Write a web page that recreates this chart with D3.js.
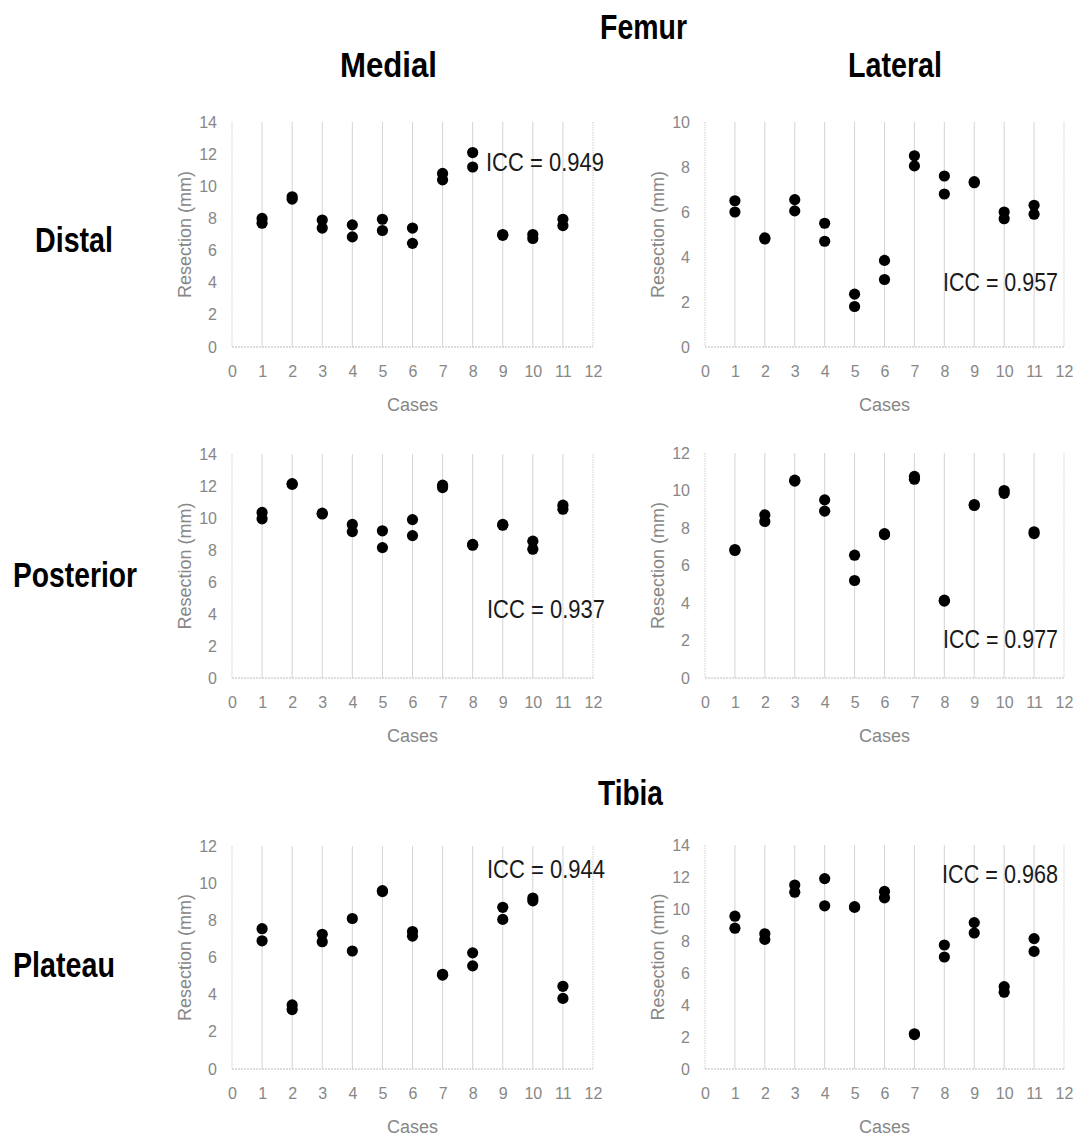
<!DOCTYPE html>
<html><head><meta charset="utf-8">
<script src="https://cdn.jsdelivr.net/npm/d3@7"></script>
<style>body{margin:0;background:#fff}</style>
</head><body><svg id="chart" width="1080" height="1142"></svg>
<script>
// ---------- data ----------
const cases = [1,2,3,4,5,6,7,8,9,10,11];
const xTickValues = [0,1,2,3,4,5,6,7,8,9,10,11,12];

const distalMedialA = [8.0, 9.35, 7.9, 7.6, 7.95, 7.4, 10.8, 12.1, 7.0, 7.0, 7.95];
const distalMedialB = [7.7, 9.2, 7.4, 6.85, 7.25, 6.45, 10.4, 11.2, 6.95, 6.75, 7.55];

const distalLateralA = [6.5, 4.85, 6.55, 5.5, 2.35, 3.85, 8.5, 7.6, 7.35, 6.0, 6.3];
const distalLateralB = [6.0, 4.8, 6.05, 4.7, 1.8, 3.0, 8.05, 6.8, 7.3, 5.7, 5.9];

const posteriorMedialA = [10.35, 12.15, 10.3, 9.6, 9.2, 9.9, 12.05, 8.35, 9.6, 8.55, 10.8];
const posteriorMedialB = [9.95, 12.1, 10.25, 9.15, 8.15, 8.9, 11.9, 8.3, 9.55, 8.05, 10.55];

const posteriorLateralA = [6.85, 8.7, 10.55, 9.5, 6.55, 7.7, 10.75, 4.15, 9.25, 10.0, 7.8];
const posteriorLateralB = [6.8, 8.35, 10.5, 8.9, 5.2, 7.65, 10.6, 4.1, 9.2, 9.85, 7.7];

const plateauMedialA = [7.55, 3.45, 7.25, 8.1, 9.6, 7.4, 5.1, 6.25, 8.7, 9.2, 4.45];
const plateauMedialB = [6.9, 3.2, 6.85, 6.35, 9.55, 7.15, 5.05, 5.55, 8.05, 9.05, 3.8];

const plateauLateralA = [9.55, 8.45, 11.5, 11.9, 10.15, 11.1, 2.2, 7.75, 9.15, 5.15, 8.15];
const plateauLateralB = [8.8, 8.1, 11.05, 10.2, 10.1, 10.7, 2.15, 7.0, 8.5, 4.8, 7.35];

const yMaxes = [14, 10, 14, 12, 12, 14];
const iccLabels = ["ICC = 0.949", "ICC = 0.957", "ICC = 0.937", "ICC = 0.977", "ICC = 0.944", "ICC = 0.968"];
const xAxisTitle = "Cases";
const yAxisTitle = "Resection (mm)";

// ---------- layout ----------
const panels = [
  {x0:232, x1:593, top:122, bottom:347, a:distalMedialA, b:distalMedialB, icc:{x:486, y:171, anchor:"start", w:118}},
  {x0:705, x1:1064, top:122, bottom:347, a:distalLateralA, b:distalLateralB, icc:{x:1058, y:291, anchor:"end", w:115}},
  {x0:232, x1:593, top:454, bottom:678, a:posteriorMedialA, b:posteriorMedialB, icc:{x:487, y:618, anchor:"start", w:118}},
  {x0:705, x1:1064, top:453, bottom:678, a:posteriorLateralA, b:posteriorLateralB, icc:{x:1058, y:648, anchor:"end", w:115}},
  {x0:232, x1:593, top:846, bottom:1069, a:plateauMedialA, b:plateauMedialB, icc:{x:487, y:878, anchor:"start", w:118}},
  {x0:705, x1:1064, top:845, bottom:1069, a:plateauLateralA, b:plateauLateralB, icc:{x:1058, y:883, anchor:"end", w:116}}
];

const titles = [
  {t:"Femur", x:600, y:39, size:36, w:87},
  {t:"Medial", x:340, y:77, size:35, w:97},
  {t:"Lateral", x:848, y:77, size:35, w:94},
  {t:"Distal", x:35, y:252, size:35, w:78},
  {t:"Posterior", x:13, y:587, size:35, w:124},
  {t:"Tibia", x:598, y:805, size:36, w:65},
  {t:"Plateau", x:13, y:977, size:35, w:102}
];

const FONT = "'Liberation Sans Narrow', 'Liberation Sans', Arial, sans-serif";
const svg = d3.select("#chart");
svg.append("rect").attr("width",1080).attr("height",1142).attr("fill","#fff");

// text squeezed horizontally to a target width via a scale transform
function fitText(parent, str, x, y, w, anchor, attrs) {
  const t = parent.append("text").attr("x", 0).attr("y", 0).attr("text-anchor", anchor).text(str);
  Object.entries(attrs).forEach(([k, v]) => t.attr(k, v));
  const len = t.node().getComputedTextLength();
  const s = Math.min(1, w / len);
  t.attr("transform", `translate(${x},${y}) scale(${s},1)`);
  return t;
}

panels.forEach((p, i) => {
  const x = d3.scaleLinear().domain([0, 12]).range([p.x0, p.x1]);
  const y = d3.scaleLinear().domain([0, yMaxes[i]]).range([p.bottom, p.top]);
  const g = svg.append("g");

  // vertical gridlines
  g.selectAll("line.grid").data(cases).enter().append("line")
    .attr("x1", d => x(d)).attr("x2", d => x(d))
    .attr("y1", p.top).attr("y2", p.bottom)
    .attr("stroke", "#d4d4d4").attr("stroke-width", 1);
  // border left/right (dotted)
  [0, 12].forEach(v => {
    g.append("line").attr("x1", x(v)).attr("x2", x(v)).attr("y1", p.top).attr("y2", p.bottom)
      .attr("stroke", "#cfcfcf").attr("stroke-width", 1).attr("stroke-dasharray", "1.5,1");
  });
  // bottom axis
  g.append("line").attr("x1", x(0)).attr("x2", x(12)).attr("y1", p.bottom).attr("y2", p.bottom)
    .attr("stroke", "#bdbdbd").attr("stroke-width", 1.2).attr("stroke-dasharray", "2,1");

  // x tick labels
  const xAxis = d3.axisBottom(x).tickValues(xTickValues).tickSize(0).tickPadding(19);
  const xa = g.append("g").attr("transform", `translate(0,${p.bottom})`).call(xAxis);
  xa.select(".domain").remove();
  xa.selectAll("text").attr("font-family", FONT).attr("font-size", 16).attr("fill", "#878787");

  // y tick labels
  const yAxis = d3.axisLeft(y).ticks(yMaxes[i] / 2).tickSize(0).tickPadding(15);
  const ya = g.append("g").attr("transform", `translate(${p.x0},0)`).call(yAxis);
  ya.select(".domain").remove();
  ya.selectAll("text").attr("font-family", FONT).attr("font-size", 16).attr("fill", "#878787");

  // axis titles
  g.append("text").attr("x", (p.x0 + p.x1) / 2).attr("y", p.bottom + 64)
    .attr("text-anchor", "middle").attr("font-family", FONT).attr("font-size", 18)
    .attr("fill", "#878787").text(xAxisTitle);
  g.append("text").attr("transform", `translate(${p.x0 - 41},${(p.top + p.bottom) / 2}) rotate(-90)`)
    .attr("text-anchor", "middle").attr("font-family", FONT).attr("font-size", 18)
    .attr("fill", "#878787").text(yAxisTitle);

  // points
  const pts = [];
  cases.forEach((c, k) => { pts.push({c, v:p.a[k]}); pts.push({c, v:p.b[k]}); });
  g.selectAll("circle").data(pts).enter().append("circle")
    .attr("cx", d => x(d.c)).attr("cy", d => y(d.v)).attr("r", 5.6).attr("fill", "#000");

  // ICC annotation
  fitText(g, iccLabels[i], p.icc.x, p.icc.y, p.icc.w, p.icc.anchor,
    {"font-family": FONT, "font-size": 26.5, "fill": "#1a1a1a"});
});

titles.forEach(t => {
  fitText(svg, t.t, t.x, t.y, t.w, "start",
    {"font-family": FONT, "font-weight": "bold", "font-size": t.size, "fill": "#000"});
});
</script>
</body></html>
